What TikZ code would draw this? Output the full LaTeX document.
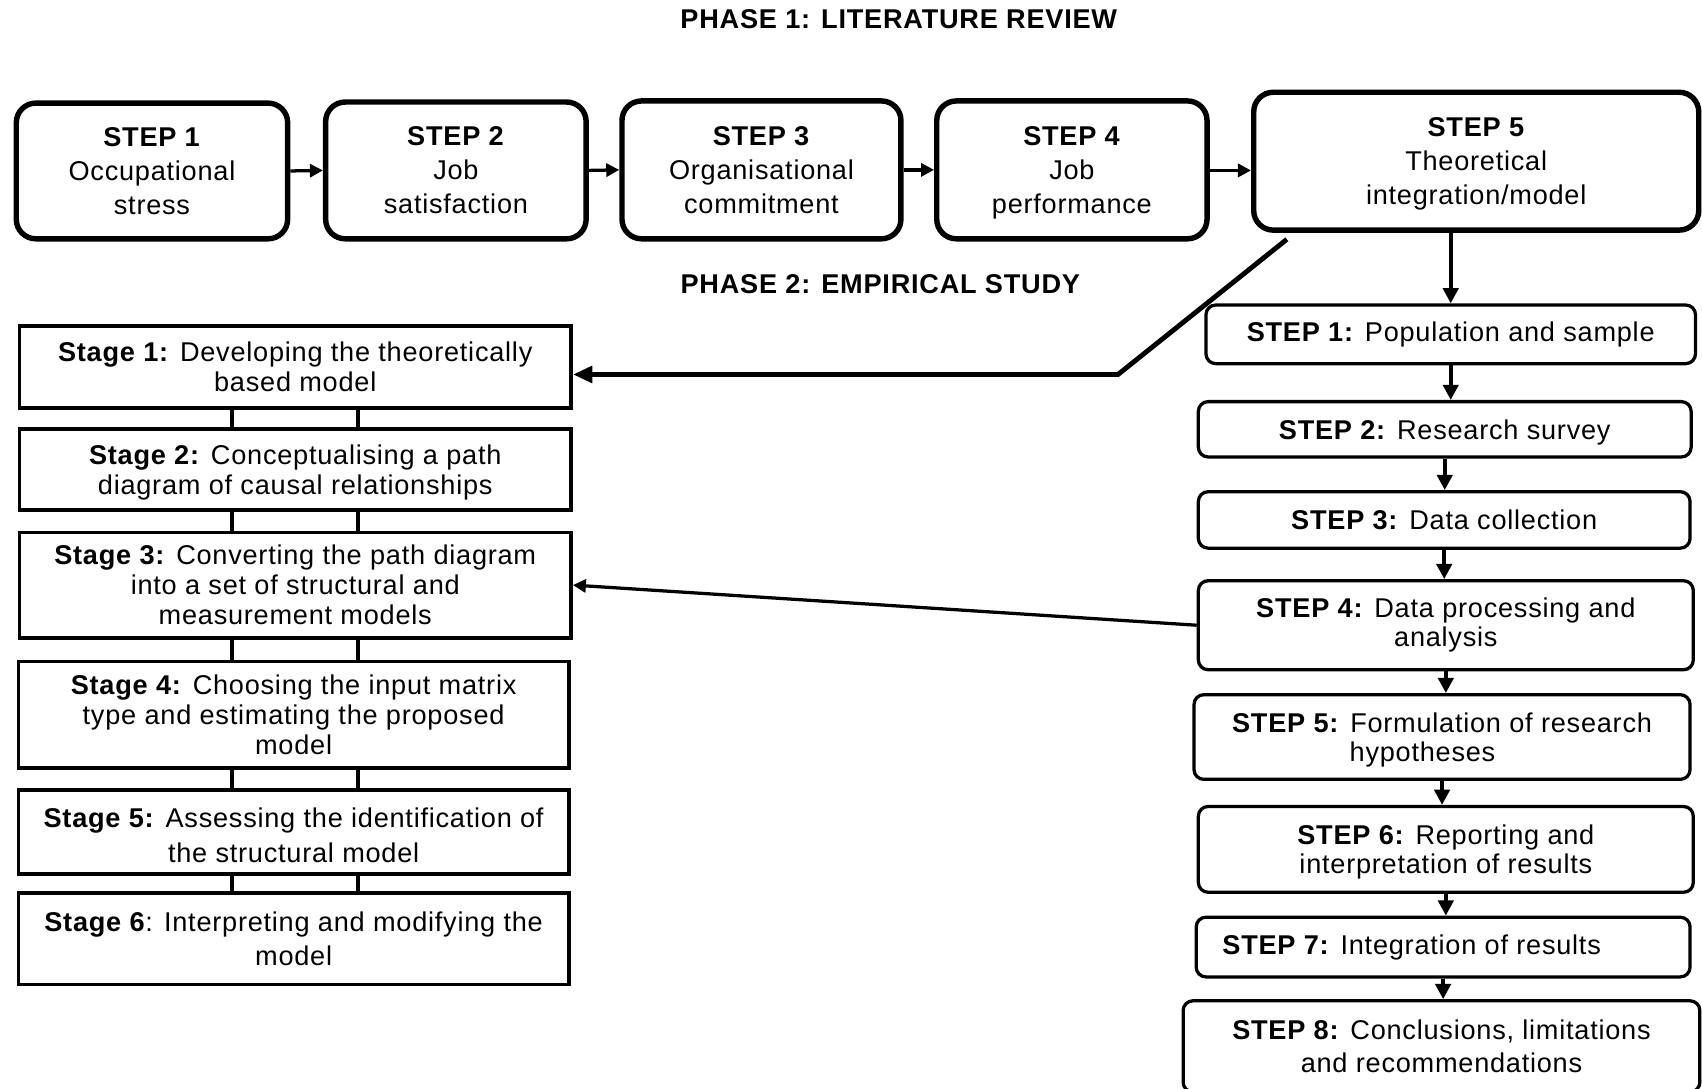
\documentclass[tikz,border=0pt]{standalone}
\usepackage{fontspec}
\setmainfont{Liberation Sans}[LetterSpace=2.8]
\usetikzlibrary{arrows.meta,calc}
% a line whose descenders do not count for vertical centring
\newcommand\nodepth[1]{\raisebox{0pt}[\height][0pt]{#1}}
\begin{document}
\begin{tikzpicture}[x=1pt,y=-1pt,
  every node/.style={inner sep=0pt,align=center},
  txt/.style={font=\fontsize{25}{31.5}\selectfont},
  topbox/.style={draw,line width=5pt,rounded corners=18pt,font=\fontsize{25}{31.5}\selectfont},
  stagebox/.style={draw,line width=3.5pt,font=\fontsize{25}{27.5}\selectfont},
  stepbox/.style={draw,line width=3pt,rounded corners=9pt,font=\fontsize{25}{27}\selectfont},
  neck/.style={line width=3.5pt},
  arr/.style={line width=3pt,-{Triangle[length=12pt,width=12pt]}},
  downarr/.style={line width=3.5pt,-{Triangle[length=14pt,width=14pt]}},
  bigarr/.style={line width=4.5pt,-{Triangle[length=18pt,width=15pt]}}
]
\useasboundingbox[fill=white] (0,0) rectangle (1568,1003);

% headings
\node[txt,font=\bfseries\fontsize{25}{30}\selectfont] (h1) at (828,18) {PHASE 1: LITERATURE REVIEW};
\node[txt,font=\bfseries\fontsize{25}{30}\selectfont] (h2) at (811,262) {PHASE 2: EMPIRICAL STUDY};

% phase 1 row
\node[topbox,minimum width=250pt,minimum height=125pt] (s1) at (140,157.5) {\textbf{STEP 1}\\Occupational\\stress};
\node[topbox,minimum width=240pt,minimum height=126pt] (s2) at (420,157) {\textbf{STEP 2}\\Job\\satisfaction};
\node[topbox,minimum width=257pt,minimum height=127pt] (s3) at (701.5,156.5) {\textbf{STEP 3}\\Organisational\\commitment};
\node[topbox,minimum width=249pt,minimum height=127pt] (s4) at (987.5,156.5) {\textbf{STEP 4}\\Job\\\nodepth{performance}};
\node[topbox,minimum width=410pt,minimum height=127pt] (s5) at (1360,148.5) {\textbf{STEP 5}\\Theoretical\\\nodepth{integration/model}};

\draw[arr] (s1.east) -- (s2.west);
\draw[arr] (s2.east) -- (s3.west);
\draw[arr] (s3.east) -- (s4.west);
\draw[arr] (s4.east |- 0,157) -- (s5.west |- 0,157);

% SEM stages
\node[stagebox,minimum width=508pt,minimum height=76pt] (st1) at (272,338) {\textbf{Stage 1:} Developing the theoretically\\based model};
\node[stagebox,minimum width=508pt,minimum height=75pt] (st2) at (272,432.5) {\textbf{Stage 2:} Conceptualising a path\\\nodepth{diagram of causal relationships}};
\node[stagebox,minimum width=508pt,minimum height=97pt] (st3) at (272,539) {\textbf{Stage 3:} Converting the path diagram\\into a set of structural and\\measurement models};
\node[stagebox,minimum width=507pt,minimum height=98pt] (st4) at (270.5,658.5) {\textbf{Stage 4:} Choosing the input matrix\\type and estimating the proposed\\model};
\node[stagebox,minimum width=507pt,minimum height=77pt,font=\fontsize{25}{32}\selectfont] (st5) at (270.5,766.5) {\rule{0pt}{24.5pt}\textbf{Stage 5:} Assessing the identification of\\the structural model};
\node[stagebox,minimum width=507pt,minimum height=84pt,font=\fontsize{25}{32}\selectfont] (st6) at (270.5,865) {\textbf{Stage 6}: Interpreting and modifying the\\model};

\coordinate (nl) at (214,0);
\coordinate (nr) at (330,0);
\foreach \a/\b in {st1/st2,st2/st3,st3/st4,st4/st5,st5/st6}{
  \draw[neck] (\a.south -| nl) -- (\b.north -| nl);
  \draw[neck] (\a.south -| nr) -- (\b.north -| nr);
}

% empirical steps
\node[stepbox,minimum width=451pt,minimum height=54pt] (r1) at (1336.5,308) {\textbf{STEP 1:} Population and sample};
\node[stepbox,minimum width=454pt,minimum height=51pt] (r2) at (1331,395.5) {\textbf{STEP 2:} \nodepth{Research survey}};
\node[stepbox,minimum width=453pt,minimum height=52pt] (r3) at (1330.5,479) {\textbf{STEP 3:} Data collection};
\node[stepbox,minimum width=456pt,minimum height=82pt] (r4) at (1332,576) {\textbf{STEP 4:} Data processing and\\analysis};
\node[stepbox,minimum width=457pt,minimum height=78pt] (r5) at (1328.5,679) {\textbf{STEP 5:} Formulation of research\\\nodepth{hypotheses}\hspace*{36pt}};
\node[stepbox,minimum width=456pt,minimum height=79pt] (r6) at (1332,782.5) {\textbf{STEP 6:} Reporting and\\\nodepth{interpretation of results}};
\node[stepbox,minimum width=455pt,minimum height=55pt] (r7) at (1329.5,872.5) {\textbf{STEP 7:} Integration of results\hspace*{58pt}};
\node[stepbox,minimum width=476pt,minimum height=84pt,font=\fontsize{25}{31}\selectfont] (r8) at (1328,964) {\textbf{STEP 8:} Conclusions, limitations\\and recommendations};

\draw[downarr] (r1.north |- s5.south) -- (r1.north);
\foreach \a/\b in {r1/r2,r2/r3,r3/r4,r4/r5,r5/r6,r6/r7,r7/r8}{
  \draw[downarr] (\a.south) -- (\a.south |- \b.north);
}

% links from phase 1 and analysis to the SEM stages
\coordinate (bend) at (1030,345);
\draw[bigarr] ($(s5.south west)+(33,6)$) -- (bend) -- ($(st1.east)+(0,7)$);
\draw[arr] (r4.west) -- (st3.east);
\end{tikzpicture}
\end{document}
